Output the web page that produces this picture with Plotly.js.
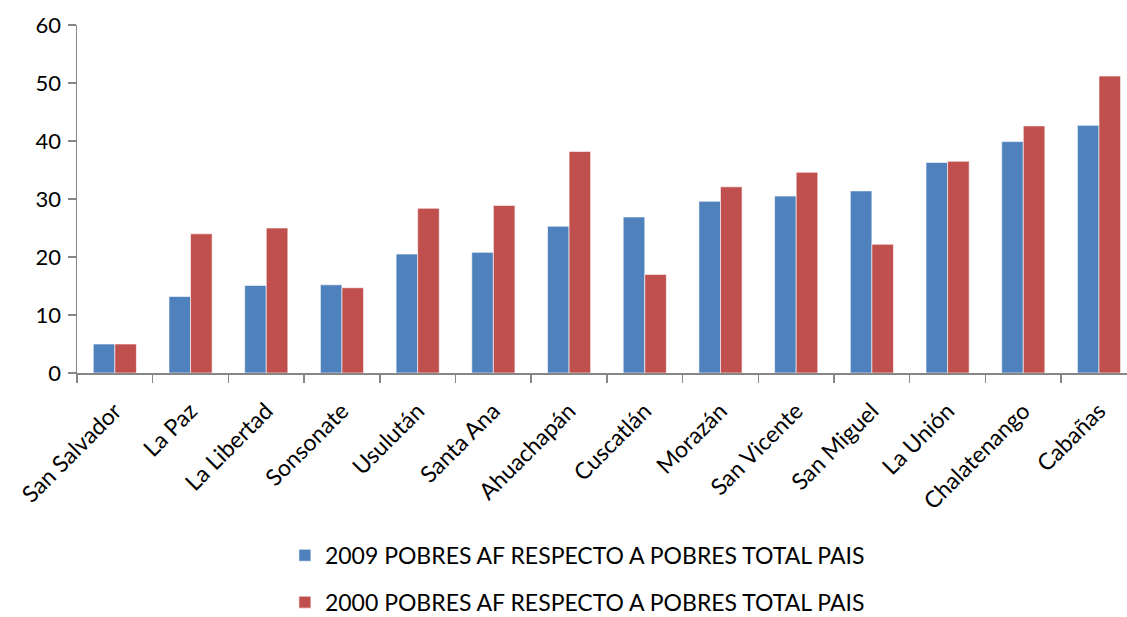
<!DOCTYPE html>
<html>
<head>
<meta charset="utf-8">
<script src="https://cdn.plot.ly/plotly-3.0.1.min.js"></script>
<style>html,body{margin:0;padding:0;background:#fff;}#chart{width:1127px;height:617px;}</style>
</head>
<body>
<div id="chart"></div>
<script>
const categories = ["San Salvador","La Paz","La Libertad","Sonsonate","Usulután","Santa Ana","Ahuachapán","Cuscatlán","Morazán","San Vicente","San Miguel","La Unión","Chalatenango","Cabañas"];
const series2009 = [5.0,13.2,15.1,15.2,20.5,20.8,25.3,26.9,29.6,30.5,31.4,36.3,39.9,42.7];
const series2000 = [5.0,24.0,25.0,14.7,28.4,28.9,38.2,17.0,32.1,34.6,22.2,36.5,42.6,51.2];
const name2009 = "2009 POBRES AF RESPECTO A POBRES TOTAL PAIS";
const name2000 = "2000 POBRES AF RESPECTO A POBRES TOTAL PAIS";
const yTicks = [0,10,20,30,40,50,60];

const font = "Lato, 'Open Sans', sans-serif";
const traces = [
  {type:"bar", x:categories, y:series2009, name:name2009, legendgroup:"a",
   marker:{color:"#4F81BD", line:{color:"rgba(255,255,255,0.6)", width:1}}},
  {type:"bar", x:categories, y:series2000, name:name2000, legendgroup:"b",
   marker:{color:"#C0504D", line:{color:"rgba(255,255,255,0.6)", width:1}}}
];
const layout = {
  width:1127, height:617,
  margin:{l:77, r:0, t:25, b:244, autoexpand:false},
  paper_bgcolor:"#fff", plot_bgcolor:"#fff",
  font:{family:font, color:"#000"},
  barmode:"group", bargap:0.43, bargroupgap:0,
  xaxis:{type:"category", range:[-0.5, 13.37], tickson:"boundaries", ticks:"outside", ticklen:8, tickwidth:1.5,
         tickcolor:"#868686", showline:true, linecolor:"#868686", linewidth:1.5, tickangle:-45,
         tickfont:{size:23, family:font}, showgrid:false, zeroline:false, automargin:false, ticklabelstandoff:14},
  yaxis:{range:[0,60], tickvals:yTicks, ticks:"outside", ticklen:8, tickwidth:1.5, tickcolor:"#868686",
         showline:true, linecolor:"#868686", linewidth:1.5, tickfont:{size:22, family:font},
         showgrid:false, zeroline:false, ticklabelstandoff:2, automargin:false},
  showlegend:true,
  legend:{orientation:"v", x:0.198, xanchor:"left", y:-0.462, yanchor:"top",
          traceorder:"grouped", tracegroupgap:14, font:{size:23, family:font}, itemwidth:30}
};
Plotly.newPlot("chart", traces, layout, {displayModeBar:false, staticPlot:true});
</script>
</body>
</html>
